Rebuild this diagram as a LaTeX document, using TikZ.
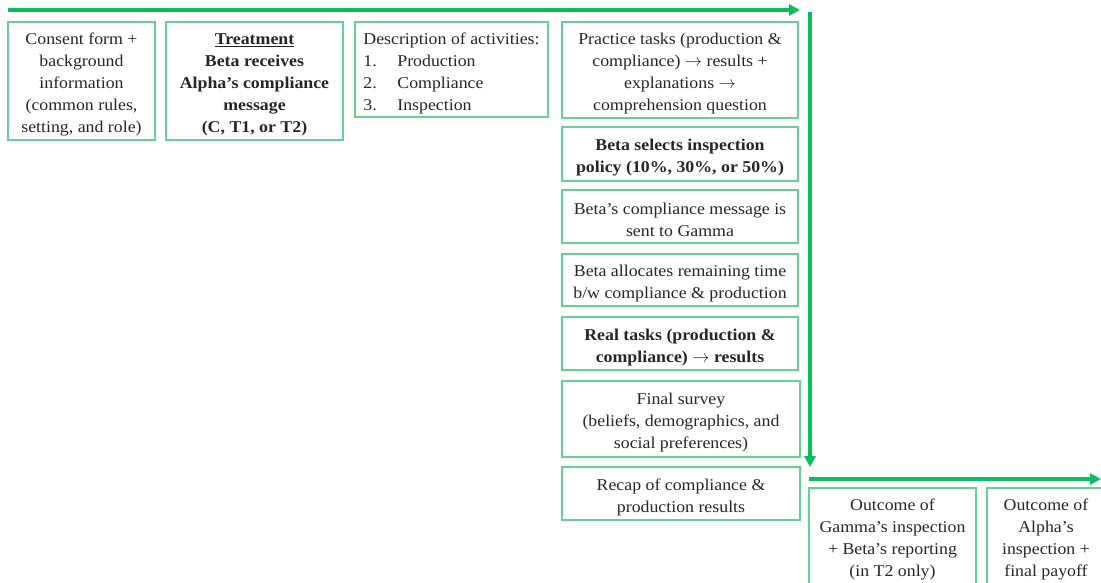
\documentclass[tikz,border=0pt]{standalone}
\usepackage{fontspec}
\setmainfont{Liberation Serif}[FakeStretch=1.08]
\usetikzlibrary{arrows.meta}
\definecolor{lineg}{RGB}{10,190,95}
\definecolor{boxg}{RGB}{100,210,148}
\newcommand{\topgap}{\rule{0pt}{19pt}}
\begin{document}
\begin{tikzpicture}[x=1pt,y=-1pt,
  box/.style={draw=boxg, line width=1.3pt, inner sep=0pt, align=center,
    font=\fontsize{16.5}{22}\selectfont, text=black!85},
  flow/.style={draw=lineg, line width=3.5pt, -{Triangle[length=11pt,width=11pt]}}]
\useasboundingbox (0,0) rectangle (1101,583);
\clip (0,0) rectangle (1101,583);
\node[box, minimum width=147pt, minimum height=118pt] (consent) at (81.5,81)
  {\topgap Consent form +\\background\\information\\(common rules,\\setting, and role)};
\node[box, minimum width=177pt, minimum height=118pt] (treat) at (254.5,81)
  {\topgap\underline{\textbf{Treatment}}\\\textbf{Beta receives}\\\textbf{Alpha’s compliance}\\\textbf{message}\\\textbf{(C, T1, or T2)}};
\node[box, align=left, minimum width=193pt, minimum height=95pt] (desc) at (451.5,69.5)
  {\topgap Description of activities:\\\makebox[34pt][l]{1.}Production\\\makebox[34pt][l]{2.}Compliance\\\makebox[34pt][l]{3.}Inspection};
\node[box, minimum width=236pt, minimum height=96pt] (practice) at (680,70)
  {\topgap Practice tasks (production \&\\compliance) $\rightarrow$ results +\\explanations $\rightarrow$\\comprehension question};
\node[box, minimum width=236pt, minimum height=54pt] (select) at (680,154)
  {\topgap\textbf{Beta selects inspection}\\\textbf{policy (10\%, 30\%, or 50\%)}};
\node[box, minimum width=236pt, minimum height=53pt] (sent) at (680,216.5)
  {\topgap Beta’s compliance message is\\sent to Gamma};
\node[box, minimum width=236pt, minimum height=52pt] (alloc) at (680,280)
  {\topgap Beta allocates remaining time\\b/w compliance \& production};
\node[box, minimum width=236pt, minimum height=53pt] (real) at (680,343.5)
  {\topgap\textbf{Real tasks (production \&}\\\textbf{compliance) $\rightarrow$ results}};
\node[box, minimum width=238pt, minimum height=76pt] (survey) at (681,419)
  {\topgap Final survey\\(beliefs, demographics, and\\social preferences)};
\node[box, minimum width=238pt, minimum height=53pt] (recap) at (681,493.5)
  {\topgap Recap of compliance \&\\production results};
\node[box, minimum width=167pt, minimum height=102pt] (gamma) at (892.5,539)
  {Outcome of\\Gamma’s inspection\\+ Beta’s reporting\\(in T2 only)};
\node[box, minimum width=118pt, minimum height=102pt] (alpha) at (1046,539)
  {Outcome of\\Alpha’s\\inspection +\\final payoff};
\coordinate (a0) at (8,10);
\coordinate (a1) at (800,10);
\coordinate (b0) at (810,12);
\coordinate (b1) at (810,467);
\coordinate (c0) at (809,479);
\coordinate (c1) at (1101,479);
\draw[flow] (a0) -- (a1);
\draw[flow] (b0) -- (b1);
\draw[flow] (c0) -- (c1);
\end{tikzpicture}
\end{document}
